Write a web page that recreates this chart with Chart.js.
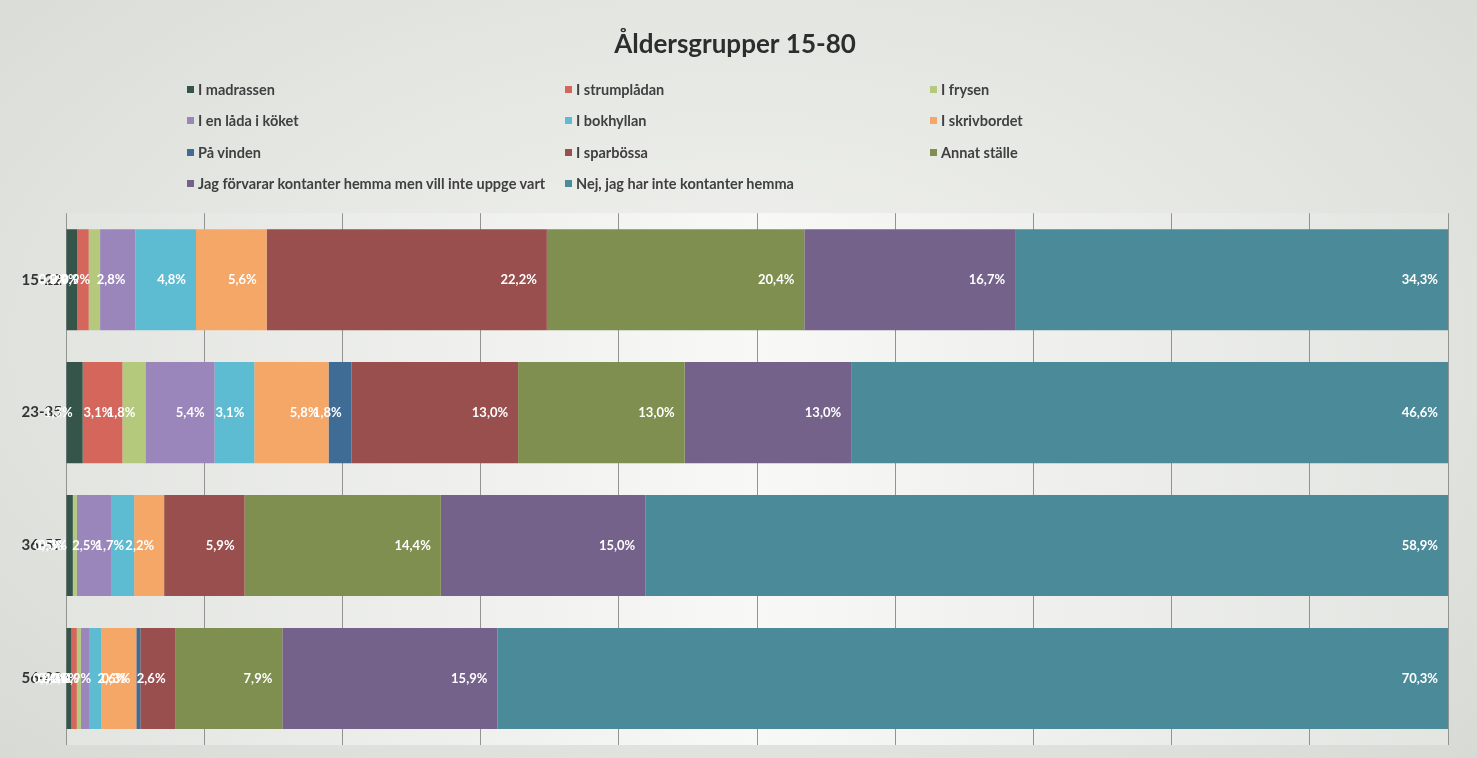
<!DOCTYPE html>
<html>
<head>
<meta charset="utf-8">
<script src="https://cdn.jsdelivr.net/npm/chart.js@4.4.1/dist/chart.umd.min.js"></script>
<style>
  body { margin: 0; background: radial-gradient(ellipse at 50% 45%, #f1f2ef 0%, #e4e6e1 55%, #d8dbd5 100%); }
  #wrap { position: relative; width: 1477px; height: 758px; }
  #legend {
    position: absolute; left: 187px; top: 74px;
    display: grid; grid-template-columns: 378px 365px 300px; grid-auto-rows: 31.3px;
    font-family: Lato, sans-serif; font-size: 14.5px; color: #404040; font-weight: bold;
  }
  #legend span.item { display: flex; align-items: center; white-space: nowrap; }
  #legend i { display: inline-block; width: 7px; height: 7px; margin-right: 4px; }
</style>
</head>
<body>
<div id="wrap">
  <canvas id="chart"></canvas>
  <div id="legend"></div>
</div>
<script>
const categories = ['15-22', '23-35', '36-55', '56-80'];

const madrassen   = [0.9, 1.3, 0.5, 0.4];
const strumpladan = [0.9, 3.1, 0.0, 0.4];
const frysen      = [0.9, 1.8, 0.3, 0.3];
const ladaKoket   = [2.8, 5.4, 2.5, 0.6];
const bokhyllan   = [4.8, 3.1, 1.7, 0.9];
const skrivbordet = [5.6, 5.8, 2.2, 2.6];
const vinden      = [0.0, 1.8, 0.0, 0.3];
const sparbossa   = [22.2, 13.0, 5.9, 2.6];
const annat       = [20.4, 13.0, 14.4, 7.9];
const villInte    = [16.7, 13.0, 15.0, 15.9];
const nej         = [34.3, 46.6, 58.9, 70.3];

const series = [
  { label: 'I madrassen', values: madrassen, color: '#35544a' },
  { label: 'I strumplådan', values: strumpladan, color: '#d4665b' },
  { label: 'I frysen', values: frysen, color: '#b4c97c' },
  { label: 'I en låda i köket', values: ladaKoket, color: '#9a86bb' },
  { label: 'I bokhyllan', values: bokhyllan, color: '#5dbcd1' },
  { label: 'I skrivbordet', values: skrivbordet, color: '#f5a768' },
  { label: 'På vinden', values: vinden, color: '#3f6c95' },
  { label: 'I sparbössa', values: sparbossa, color: '#9a4f4f' },
  { label: 'Annat ställe', values: annat, color: '#7e8f4f' },
  { label: 'Jag förvarar kontanter hemma men vill inte uppge vart', values: villInte, color: '#75628a' },
  { label: 'Nej, jag har inte kontanter hemma', values: nej, color: '#4b8a98' }
];

// bars are 100 % stacked: each row is scaled by its own total
const rowTotals = categories.map((c, i) => series.reduce((s, d) => s + d.values[i], 0));

const datasets = series.map(s => ({
  label: s.label,
  values: s.values,
  data: s.values.map((v, i) => v / rowTotals[i] * 100),
  backgroundColor: s.color,
  borderWidth: 0
}));

const plotBackground = {
  id: 'plotBackground',
  beforeDraw(chart) {
    const { ctx, chartArea: a } = chart;
    const g = ctx.createLinearGradient(a.left, 0, a.right, 0);
    g.addColorStop(0, '#e3e5e1');
    g.addColorStop(0.5, '#f8f8f6');
    g.addColorStop(1, '#e3e5e1');
    ctx.save();
    ctx.fillStyle = g;
    ctx.fillRect(a.left, a.top, a.right - a.left, a.bottom - a.top);
    ctx.restore();
  }
};

const valueLabels = {
  id: 'valueLabels',
  afterDatasetsDraw(chart) {
    const ctx = chart.ctx;
    ctx.save();
    ctx.font = 'bold 13px Lato, sans-serif';
    ctx.fillStyle = '#ffffff';
    ctx.textAlign = 'right';
    ctx.textBaseline = 'middle';
    chart.data.datasets.forEach((ds, di) => {
      chart.getDatasetMeta(di).data.forEach((bar, i) => {
        const v = ds.values[i];
        if (!v) return;
        ctx.fillText(v.toFixed(1).replace('.', ',') + '%', bar.x - 10, bar.y);
      });
    });
    ctx.restore();
  }
};

const chart = new Chart(document.getElementById('chart'), {
  type: 'bar',
  data: { labels: categories, datasets: datasets },
  options: {
    indexAxis: 'y',
    responsive: true,
    maintainAspectRatio: false,
    animation: false,
    categoryPercentage: 1,
    barPercentage: 0.76,
    layout: { padding: { left: 22, right: 29, bottom: 13 } },
    plugins: {
      legend: { display: false },
      tooltip: { enabled: false },
      title: {
        display: true,
        text: 'Åldersgrupper 15-80',
        color: '#2d2d2d',
        font: { family: 'Lato', size: 26, weight: 'bold', lineHeight: 1.2 },
        padding: { top: 29, bottom: 153 }
      }
    },
    scales: {
      x: {
        stacked: true,
        min: 0,
        max: 100,
        ticks: { display: false, stepSize: 10 },
        grid: { color: '#929492', lineWidth: 1, drawTicks: false },
        border: { display: false },
        afterFit(scale) { scale.height = 0; }
      },
      y: {
        stacked: true,
        ticks: { color: '#333333', padding: 4, font: { family: 'Lato', size: 15, weight: 'bold' } },
        grid: { display: false, drawTicks: false },
        border: { display: false },
        afterFit(scale) { scale.width = 44; }
      }
    }
  },
  plugins: [plotBackground, valueLabels]
});

const legend = document.getElementById('legend');
chart.data.datasets.forEach(ds => {
  const item = document.createElement('span');
  item.className = 'item';
  const box = document.createElement('i');
  box.style.background = ds.backgroundColor;
  item.appendChild(box);
  item.appendChild(document.createTextNode(ds.label));
  legend.appendChild(item);
});
</script>
</body>
</html>
